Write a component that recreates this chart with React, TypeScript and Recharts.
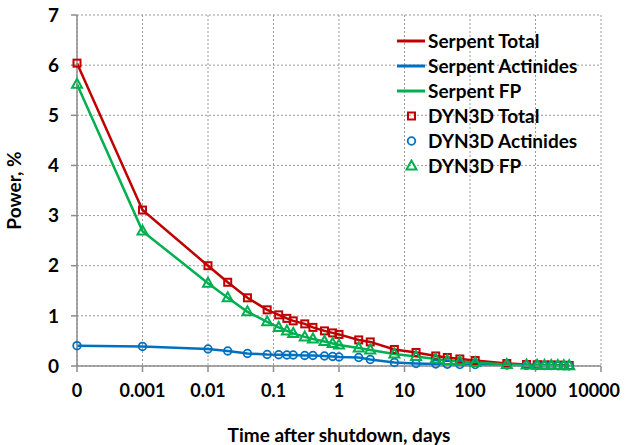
import { ComposedChart, Line, XAxis, YAxis, CartesianGrid } from 'recharts'

// time after shutdown, days (0 is drawn at the 1e-4 position of the log axis)
const times = [
    0, 0.001, 0.01, 0.02, 0.04, 0.08, 0.12, 0.16, 0.2, 0.3, 0.4, 0.6, 0.8, 1,
    2, 3, 7, 15, 30, 45, 70, 120, 365, 730, 1060, 1370, 1740, 2190, 2700, 3270
]

const totalPower = [
    6.04, 3.11, 2.0, 1.67, 1.36, 1.12, 1.02, 0.95, 0.9, 0.84, 0.77, 0.7, 0.66, 0.63,
    0.52, 0.48, 0.33, 0.27, 0.2, 0.17, 0.14, 0.11, 0.05, 0.03, 0.025, 0.02, 0.02, 0.015, 0.015, 0.01
]

const actinidesPower = [
    0.405, 0.39, 0.34, 0.3, 0.25, 0.23, 0.225, 0.22, 0.22, 0.21, 0.21, 0.2, 0.19, 0.18,
    0.17, 0.13, 0.07, 0.05, 0.04, 0.035, 0.03, 0.03, 0.02, 0.012, 0.01, 0.008, 0.008, 0.007, 0.007, 0.006
]

const fpPower = [
    5.62, 2.69, 1.65, 1.36, 1.08, 0.88, 0.77, 0.7, 0.65, 0.58, 0.54, 0.49, 0.45, 0.42,
    0.36, 0.32, 0.24, 0.19, 0.14, 0.11, 0.09, 0.07, 0.03, 0.02, 0.015, 0.012, 0.01, 0.008, 0.007, 0.006
]

const xTicks = [-4, -3, -2, -1, 0, 1, 2, 3, 4]
const xTickLabels = ['0', '0.001', '0.01', '0.1', '1', '10', '100', '1000', '10000']
const yTicks = [0, 1, 2, 3, 4, 5, 6, 7]

const RED = '#C00000'
const BLUE = '#0070C0'
const GREEN = '#00B050'
const FONT = 'Lato, "Open Sans", sans-serif'
const FS = 19

const data = times.map((t, i) => ({
    lx: t === 0 ? -4 : Math.log10(t),
    total: totalPower[i],
    actinides: actinidesPower[i],
    fp: fpPower[i]
}))

const square = (color: string) => (p: any) => (
    <rect key={`s${p.index}`} x={p.cx - 3.5} y={p.cy - 3.5} width={7} height={7}
        fill="none" stroke={color} strokeWidth={2} />
)
const circle = (color: string) => (p: any) => (
    <circle key={`c${p.index}`} cx={p.cx} cy={p.cy} r={3.8}
        fill="none" stroke={color} strokeWidth={1.8} />
)
const triangle = (color: string) => (p: any) => (
    <polygon key={`t${p.index}`}
        points={`${p.cx},${p.cy - 5.5} ${p.cx - 5},${p.cy + 3.5} ${p.cx + 5},${p.cy + 3.5}`}
        fill="none" stroke={color} strokeWidth={2} />
)

// x tick label; the last one is pulled in so it stays inside the picture
const XTick = (p: any) => {
    const idx = xTicks.indexOf(p.payload.value)
    const last = idx === xTicks.length - 1
    return (
        <text x={last ? 620 : p.x} y={p.y} dy="0.71em" textAnchor={last ? 'end' : 'middle'}
            fontFamily={FONT} fontWeight={700} fontSize={18} fill="#000">
            {xTickLabels[idx]}
        </text>
    )
}

const legendItems = [
    { label: 'Serpent Total', kind: 'line', color: RED },
    { label: 'Serpent Actinides', kind: 'line', color: BLUE },
    { label: 'Serpent FP', kind: 'line', color: GREEN },
    { label: 'DYN3D Total', kind: 'square', color: RED },
    { label: 'DYN3D Actinides', kind: 'circle', color: BLUE },
    { label: 'DYN3D FP', kind: 'triangle', color: GREEN }
]

function ChartLegend() {
    return (
        <div style={{
            position: 'absolute', left: 397, top: 28, fontFamily: FONT, fontWeight: 700,
            fontSize: FS, color: '#000', lineHeight: '25px'
        }}>
            {legendItems.map((it) => (
                <div key={it.label} style={{ display: 'flex', alignItems: 'center', height: 25, whiteSpace: 'nowrap' }}>
                    <svg width={30} height={14} style={{ marginRight: 1 }}>
                        {it.kind === 'line' && <line x1={0} y1={7} x2={28} y2={7} stroke={it.color} strokeWidth={3} />}
                        {it.kind === 'square' && <rect x={11} y={3.5} width={7} height={7} fill="none" stroke={it.color} strokeWidth={2} />}
                        {it.kind === 'circle' && <circle cx={14.5} cy={7} r={3.8} fill="none" stroke={it.color} strokeWidth={1.8} />}
                        {it.kind === 'triangle' && <polygon points="14.5,1.5 9.5,10.5 19.5,10.5" fill="none" stroke={it.color} strokeWidth={2} />}
                    </svg>
                    <span>{it.label}</span>
                </div>
            ))}
        </div>
    )
}

export default function App() {
    return (
        <div style={{ position: 'absolute', left: 0, top: 0, width: 627, height: 445, background: '#fff' }}>
            <ComposedChart width={627} height={445} data={data}
                margin={{ top: 15, right: 26, bottom: 0, left: 0 }}>
                <CartesianGrid stroke="#9a9a9a" strokeDasharray="2 2" />
                <XAxis
                    dataKey="lx"
                    type="number"
                    domain={[-4, 4]}
                    ticks={xTicks}
                    height={79}
                    axisLine={{ stroke: '#8c8c8c', strokeWidth: 1.5 }}
                    tickLine={{ stroke: '#8c8c8c', strokeWidth: 1.5 }}
                    tickSize={6}
                    tickMargin={12}
                    tick={<XTick />}
                    interval={0}
                    label={({ viewBox }: any) => (
                        <text x={viewBox.x + viewBox.width / 2} y={442} textAnchor="middle"
                            fontFamily={FONT} fontWeight={700} fontSize={FS} fill="#000">
                            Time after shutdown, days
                        </text>
                    )}
                />
                <YAxis
                    type="number"
                    domain={[0, 7]}
                    ticks={yTicks}
                    width={77}
                    axisLine={{ stroke: '#8c8c8c', strokeWidth: 1.5 }}
                    tickLine={{ stroke: '#8c8c8c', strokeWidth: 1.5 }}
                    tickSize={6}
                    tickMargin={12}
                    tick={{ fill: '#000', fontFamily: FONT, fontWeight: 700, fontSize: FS }}
                    label={({ viewBox }: any) => (
                        <text x={21} y={viewBox.y + viewBox.height / 2} textAnchor="middle"
                            transform={`rotate(-90, 21, ${viewBox.y + viewBox.height / 2})`}
                            fontFamily={FONT} fontWeight={700} fontSize={FS} fill="#000">
                            Power, %
                        </text>
                    )}
                />
                <Line dataKey="total" name="Serpent Total" stroke={RED} strokeWidth={2.5} dot={false} isAnimationActive={false} />
                <Line dataKey="actinides" name="Serpent Actinides" stroke={BLUE} strokeWidth={2.5} dot={false} isAnimationActive={false} />
                <Line dataKey="fp" name="Serpent FP" stroke={GREEN} strokeWidth={2.5} dot={false} isAnimationActive={false} />
                <Line dataKey="total" name="DYN3D Total" stroke="none" dot={square(RED)} activeDot={false} isAnimationActive={false} />
                <Line dataKey="actinides" name="DYN3D Actinides" stroke="none" dot={circle(BLUE)} activeDot={false} isAnimationActive={false} />
                <Line dataKey="fp" name="DYN3D FP" stroke="none" dot={triangle(GREEN)} activeDot={false} isAnimationActive={false} />
            </ComposedChart>
            <ChartLegend />
        </div>
    )
}
